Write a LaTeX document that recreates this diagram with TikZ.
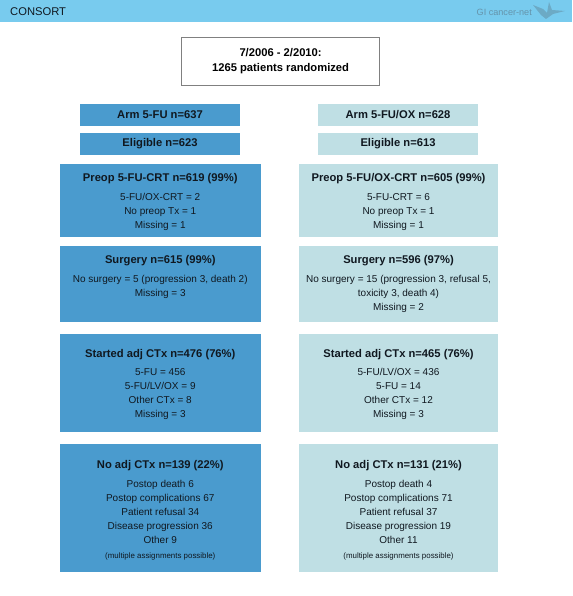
\documentclass[tikz,border=0pt]{standalone}
\usepackage{fontspec}
\setmainfont{Liberation Sans}
\definecolor{hdr}{HTML}{78CBEE}
\definecolor{armA}{HTML}{4A9BCE}
\definecolor{armB}{HTML}{BFDFE4}
\definecolor{ink}{HTML}{101820}
\definecolor{logo}{HTML}{6594AB}
\newcommand{\ttl}[1]{{\fontsize{11.2}{14}\selectfont\bfseries #1}}
\newcommand{\cbox}[7]{%
  \node[panel, fill=#6, minimum width=#4pt, minimum height=#5pt, anchor=north west] (#1) at (#2,#3)
    {\parbox[t][#5pt][t]{#4pt}{\centering\fontsize{10}{14}\selectfont\color{ink}#7\par}};}
\tikzset{
  x=1pt, y=-1pt,
  panel/.style={inner sep=0pt, outer sep=0pt, draw=none},
  simple/.style={inner sep=0pt, outer sep=0pt, draw=none, align=center, font=\fontsize{11.2}{14}\selectfont\bfseries, text=ink, minimum height=22pt, minimum width=160pt, anchor=north west},
  frame/.style={draw=black!50, line width=1.2pt, fill=white, inner sep=0pt, align=center, font=\fontsize{11.2}{15}\selectfont\bfseries, text=black, minimum width=198pt, minimum height=48pt, anchor=north west},
  crane/.style={fill=logo, draw=none, opacity=.6}
}
\begin{document}
\begin{tikzpicture}
\useasboundingbox (0,0) rectangle (572,596);
\fill[white] (0,0) rectangle (572,596);
\fill[hdr] (0,0) rectangle (572,22);
\node[anchor=base west, inner sep=0pt, font=\fontsize{11.2}{12}\selectfont, text=ink] (hdrtitle) at (10,15.5) {CONSORT};
\node[anchor=base east, inner sep=0pt, font=\fontsize{9.1}{10}\selectfont, text=logo] (hdrlogo) at (532,16) {GI cancer-net};
\fill[crane] (533,5) -- (543,9) -- (547,13) -- (549,2) -- (552,10) -- (565,11) -- (553,14) -- (546,19) -- (541,15) -- cycle;
\node[frame] (top) at (181,37) {7/2006 - 2/2010:\\1265 patients randomized};
\node[simple, fill=armA] (armleft) at (80,104) {Arm 5-FU n=637};
\node[simple, fill=armB] (armright) at (318,104) {Arm 5-FU/OX n=628};
\node[simple, fill=armA] (eligleft) at (80,133) {Eligible n=623};
\node[simple, fill=armB] (eligright) at (318,133) {Eligible n=613};
\cbox{preopleft}{60}{164}{200.5}{73}{armA}{\vspace*{9.5pt}\ttl{Preop 5-FU-CRT n=619 (99\%)}\\[4.5pt]5-FU/OX-CRT = 2\\No preop Tx = 1\\Missing = 1}
\cbox{preopright}{299}{164}{199}{73}{armB}{\vspace*{9.5pt}\ttl{Preop 5-FU/OX-CRT n=605 (99\%)}\\[4.5pt]5-FU-CRT = 6\\No preop Tx = 1\\Missing = 1}
\cbox{surgleft}{60}{246}{200.5}{76}{armA}{\vspace*{9.5pt}\ttl{Surgery n=615 (99\%)}\\[4.5pt]No surgery = 5 (progression 3, death 2)\\Missing = 3}
\cbox{surgright}{299}{246}{199}{76}{armB}{\vspace*{9.5pt}\ttl{Surgery n=596 (97\%)}\\[4.5pt]No surgery = 15 (progression 3, refusal 5,\\toxicity 3, death 4)\\Missing = 2}
\cbox{startleft}{60}{334}{200.5}{98}{armA}{\vspace*{15.5pt}\ttl{Started adj CTx n=476 (76\%)}\\[4pt]5-FU = 456\\5-FU/LV/OX = 9\\Other CTx = 8\\Missing = 3}
\cbox{startright}{299}{334}{199}{98}{armB}{\vspace*{15.5pt}\ttl{Started adj CTx n=465 (76\%)}\\[4pt]5-FU/LV/OX = 436\\5-FU = 14\\Other CTx = 12\\Missing = 3}
\cbox{noleft}{60}{444}{200.5}{127.5}{armA}{\vspace*{16.5pt}\ttl{No adj CTx n=139 (22\%)}\\[4.5pt]Postop death 6\\Postop complications 67\\Patient refusal 34\\Disease progression 36\\Other 9\\[1pt]{\fontsize{7.9}{9}\selectfont (multiple assignments possible)}}
\cbox{noright}{299}{444}{199}{127.5}{armB}{\vspace*{16.5pt}\ttl{No adj CTx n=131 (21\%)}\\[4.5pt]Postop death 4\\Postop complications 71\\Patient refusal 37\\Disease progression 19\\Other 11\\[1pt]{\fontsize{7.9}{9}\selectfont (multiple assignments possible)}}
\end{tikzpicture}
\end{document}
